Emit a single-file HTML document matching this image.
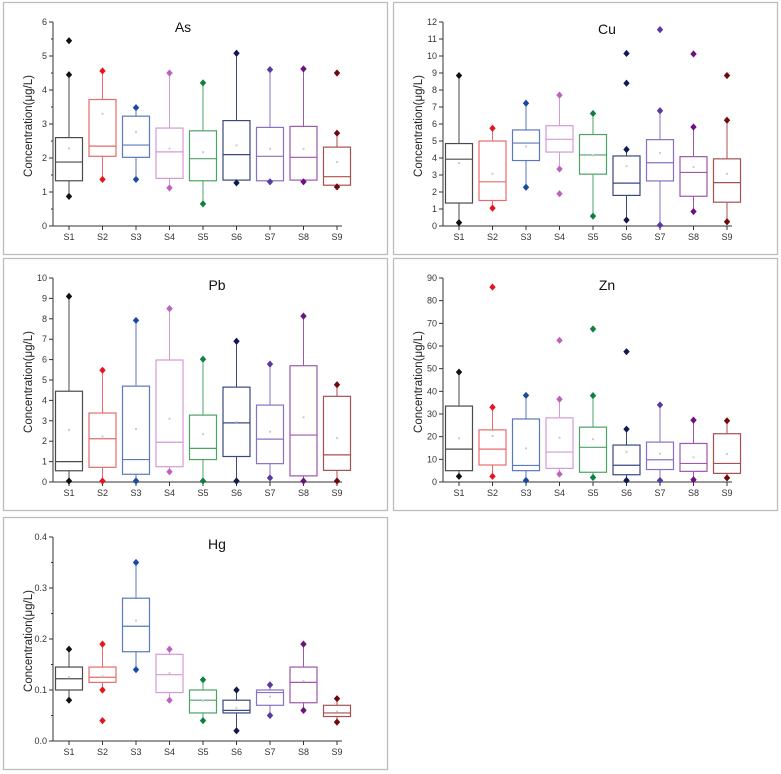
<!DOCTYPE html>
<html><head><meta charset="utf-8"><style>
html,body{margin:0;padding:0;background:#fff;}
svg{display:block;font-family:"Liberation Sans",Arial,sans-serif;}
</style></head><body>
<svg id="fig" width="781" height="774" viewBox="0 0 781 774" xmlns="http://www.w3.org/2000/svg"></svg>
<script>
const categories = ["S1","S2","S3","S4","S5","S6","S7","S8","S9"];
const boxStroke = ["#4a4a4a","#e86a6a","#5a78bc","#d49ad4","#4aa464","#3a4880","#8a70c4","#9c58ac","#a85050"];
const markColor = ["#111111","#e8141c","#1a4aa0","#c060c0","#108040","#101a50","#5a3aa0","#701080","#700a0a"];

const asMin = [0.87,1.37,1.37,1.12,0.65,1.27,1.30,1.30,1.15];
const asQ1 = [1.33,2.05,2.02,1.40,1.33,1.35,1.33,1.35,1.20];
const asMed = [1.88,2.35,2.38,2.18,1.98,2.10,2.05,2.02,1.45];
const asQ3 = [2.60,3.72,3.23,2.88,2.80,3.10,2.90,2.93,2.32];
const asMax = [4.45,4.56,3.48,4.50,4.21,5.08,4.60,4.62,2.73];
const asMean = [2.28,3.30,2.77,2.28,2.17,2.37,2.27,2.27,1.88];
const asOut = [[5.45],[],[],[],[],[],[],[],[4.50]];

const cuMin = [0.20,1.05,2.28,3.35,0.58,0.35,0.05,0.85,0.25];
const cuQ1 = [1.35,1.50,3.85,4.35,3.05,1.80,2.65,1.75,1.40];
const cuMed = [3.93,2.60,4.88,5.10,4.18,2.52,3.72,3.15,2.55];
const cuQ3 = [4.85,5.00,5.65,5.90,5.38,4.12,5.08,4.08,3.95];
const cuMax = [8.85,5.75,7.22,7.70,6.62,4.50,6.78,5.82,6.22];
const cuMean = [3.70,3.07,4.68,5.10,4.15,3.52,4.30,3.47,3.07];
const cuOut = [[],[],[],[1.90],[],[8.40,10.15],[11.55],[10.12],[8.85]];

const pbMin = [0.05,0.05,0.05,0.50,0.05,0.05,0.20,0.05,0.05];
const pbQ1 = [0.55,0.72,0.38,0.75,1.10,1.25,0.90,0.30,0.57];
const pbMed = [1.00,2.12,1.10,1.95,1.65,2.90,2.10,2.30,1.33];
const pbQ3 = [4.45,3.38,4.70,5.98,3.28,4.65,3.77,5.70,4.20];
const pbMax = [9.10,5.48,7.92,8.50,6.02,6.90,5.78,8.13,4.77];
const pbMean = [2.55,2.23,2.60,3.10,2.35,2.95,2.47,3.17,2.15];
const pbOut = [[],[],[],[],[],[],[],[],[]];

const znMin = [2.5,2.5,0.7,3.5,2.0,0.7,0.7,1.0,1.8];
const znQ1 = [5.0,7.5,5.0,6.0,4.3,3.2,5.5,4.7,3.8];
const znMed = [14.5,14.5,7.3,13.2,15.3,7.4,9.8,8.2,8.2];
const znQ3 = [33.5,23.0,27.8,28.3,24.2,16.3,17.6,17.0,21.3];
const znMax = [48.5,33.0,38.2,36.5,38.1,23.3,34.0,27.3,27.0];
const znMean = [19.3,20.3,14.8,19.5,18.9,13.3,12.5,10.9,12.3];
const znOut = [[],[86],[],[62.5],[67.5],[57.5],[],[],[]];

const hgMin = [0.08,0.10,0.14,0.08,0.04,0.02,0.05,0.06,0.037];
const hgQ1 = [0.100,0.115,0.175,0.095,0.055,0.055,0.070,0.075,0.048];
const hgMed = [0.122,0.125,0.225,0.130,0.080,0.060,0.095,0.115,0.055];
const hgQ3 = [0.145,0.145,0.280,0.170,0.100,0.080,0.100,0.145,0.070];
const hgMax = [0.18,0.19,0.35,0.18,0.12,0.10,0.11,0.19,0.083];
const hgMean = [0.125,0.127,0.236,0.133,0.079,0.065,0.087,0.118,0.058];
const hgOut = [[],[0.04],[],[],[],[],[],[],[]];

const asTicks = ["0","1","2","3","4","5","6"];
const cuTicks = ["0","1","2","3","4","5","6","7","8","9","10","11","12"];
const pbTicks = ["0","1","2","3","4","5","6","7","8","9","10"];
const znTicks = ["0","10","20","30","40","50","60","70","80","90"];
const hgTicks = ["0.0","0.1","0.2","0.3","0.4"];

const NS = "http://www.w3.org/2000/svg";
const svg = document.getElementById("fig");
function mk(tag, attrs, parent){
  const e = document.createElementNS(NS, tag);
  for (const k in attrs) e.setAttribute(k, attrs[k]);
  parent.appendChild(e);
  return e;
}

function panel(key, title, ox, oy, yMax, ticks, minA, q1A, medA, q3A, maxA, meanA, outA, minorHalf){
  const g = mk("g", {transform:"translate("+ox+","+oy+")"}, svg);
  
  
  const frame = mk("rect", {x:3.5, y:2.5, width:384, height:252, fill:"none", stroke:"#bdbdbd", "stroke-width":1.3}, g);
  
  
  const left = 53, right = 342, yB = 226, yT = 22;
  const yS = v => yB - (v / yMax) * (yB - yT);
  const xS = i => 69 + i * 33.5;
  const ya = mk("line", {x1:left, y1:yT, x2:left, y2:yB, stroke:"#333", "stroke-width":1}, g);
  
  
  const xa = mk("line", {x1:left, y1:yB, x2:right, y2:yB, stroke:"#333", "stroke-width":1}, g);
  
  
  const step = yMax / (ticks.length - 1);
  ticks.forEach((t, i) => {
    const v = i * step, y = yS(v);
    mk("line", {x1:left-4, y1:y, x2:left, y2:y, stroke:"#333", "stroke-width":1}, g);
    if (minorHalf && i < ticks.length - 1) {
      const ym = yS(v + step/2);
      mk("line", {x1:left-2, y1:ym, x2:left, y2:ym, stroke:"#333", "stroke-width":1}, g);
    }
    const tx = mk("text", {x:left-6, y:y+3, "font-size":9, "text-anchor":"end", fill:"#333"}, g);
    tx.textContent = t;
    
    
  });
  categories.forEach((c, i) => {
    const x = xS(i);
    mk("line", {x1:x, y1:yB, x2:x, y2:yB+4, stroke:"#333", "stroke-width":1}, g);
    const tx = mk("text", {x:x, y:yB+14, "font-size":9, "text-anchor":"middle", fill:"#333"}, g);
    tx.textContent = c;
    
    
  });
  const yl = mk("text", {x:0, y:0, "font-size":11.5, "text-anchor":"middle", fill:"#222", transform:"translate(32,"+((yB+yT)/2+2)+") rotate(-90)"}, g);
  yl.textContent = "Concentration(μg/L)";
  
  
  const tt = mk("text", {x:(key==="as")?183:217, y:(key==="as")?32:34, "font-size":14, "text-anchor":"middle", fill:"#111"}, g);
  tt.textContent = title;
  
  

  categories.forEach((c, i) => {
    const x = xS(i), w = 27, sc = boxStroke[i], mc = markColor[i];
    const bg = mk("g", {}, g);
    
    
    mk("line", {x1:x, y1:yS(q3A[i]), x2:x, y2:yS(maxA[i]), stroke:sc, "stroke-width":1}, bg);
    mk("line", {x1:x, y1:yS(q1A[i]), x2:x, y2:yS(minA[i]), stroke:sc, "stroke-width":1}, bg);
    mk("rect", {x:x-w/2, y:yS(q3A[i]), width:w, height:yS(q1A[i])-yS(q3A[i]), fill:"none", stroke:sc, "stroke-width":1.2}, bg);
    mk("line", {x1:x-w/2, y1:yS(medA[i]), x2:x+w/2, y2:yS(medA[i]), stroke:sc, "stroke-width":1.2}, bg);
    mk("rect", {x:x-1, y:yS(meanA[i])-1, width:2, height:2, fill:"#ccc"}, bg);
    const pts = [minA[i], maxA[i]].concat(outA[i]);
    pts.forEach(v => {
      const y = yS(v);
      const d = mk("path", {d:"M"+x+" "+(y-3.6)+" L"+(x+3.2)+" "+y+" L"+x+" "+(y+3.6)+" L"+(x-3.2)+" "+y+" Z", fill:mc}, bg);
      
      
    });
  });
}

panel("as","As",0,0,6,asTicks,asMin,asQ1,asMed,asQ3,asMax,asMean,asOut,true);
panel("cu","Cu",390,0,12,cuTicks,cuMin,cuQ1,cuMed,cuQ3,cuMax,cuMean,cuOut,false);
panel("pb","Pb",0,256,10,pbTicks,pbMin,pbQ1,pbMed,pbQ3,pbMax,pbMean,pbOut,false);
panel("zn","Zn",390,256,90,znTicks,znMin,znQ1,znMed,znQ3,znMax,znMean,znOut,false);
panel("hg","Hg",0,515,0.4,hgTicks,hgMin,hgQ1,hgMed,hgQ3,hgMax,hgMean,hgOut,true);
</script>
</body></html>
